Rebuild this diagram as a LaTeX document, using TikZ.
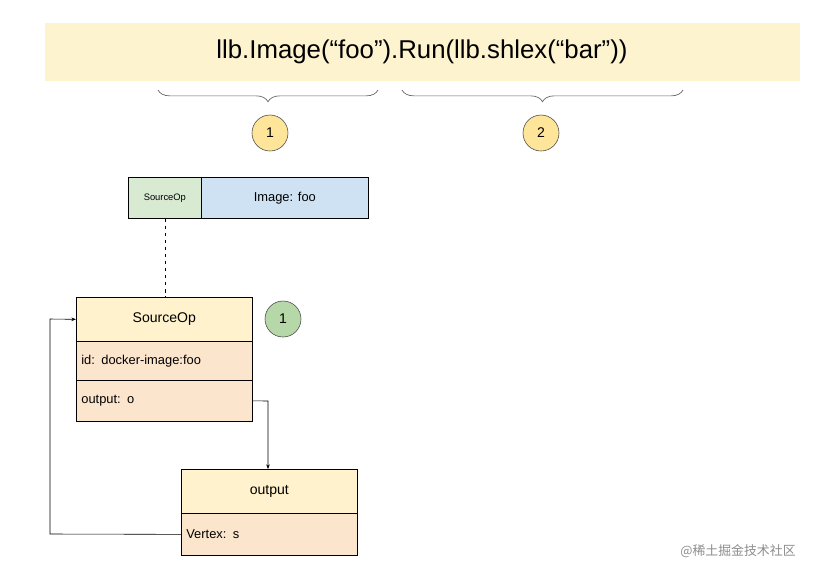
\documentclass[tikz,border=0pt]{standalone}
\usepackage{fontspec}
\setmainfont{Liberation Sans}
\newfontfamily\cjk{Noto Sans CJK SC}
\usetikzlibrary{decorations.pathreplacing,arrows.meta}
\definecolor{banner}{HTML}{FDF3CF}
\definecolor{hdr}{HTML}{FFF2CC}
\definecolor{row}{HTML}{FCE5CD}
\definecolor{grn}{HTML}{D9EAD3}
\definecolor{blu}{HTML}{CFE2F3}
\definecolor{ycirc}{HTML}{FFE599}
\definecolor{gcirc}{HTML}{B6D7A8}
\begin{document}
\begin{tikzpicture}[x=0.03cm,y=-0.03cm,
  box/.style={draw=black,line width=0.6pt,inner sep=0pt,anchor=north west},
  num/.style={circle,draw=black!70,line width=0.5pt,minimum size=36*0.03cm,inner sep=0pt,font=\fontsize{12}{14}\selectfont},
  lbl/.style={font=\fontsize{11}{13}\selectfont},
  conn/.style={line width=0.5pt},
  brc/.style={decorate,decoration={brace,amplitude=10pt,mirror},draw=black!60,line width=0.6pt}]
\useasboundingbox (0,0) rectangle (834,579);
\node[fill=banner,minimum width=755*0.03cm,minimum height=58*0.03cm,anchor=north west,inner sep=0pt] (ban) at (45,23) {};
\node[font=\fontsize{22}{26}\selectfont] (code) at (422,52) {llb.Image(“foo”).Run(llb.shlex(“bar”))};
\coordinate (b1a) at (158,90); \coordinate (b1b) at (378,90);
\coordinate (b2a) at (402,90); \coordinate (b2b) at (683,90);
\draw[brc] (b1a) -- (b1b);
\draw[brc] (b2a) -- (b2b);
\node[num,fill=ycirc] (c1) at (270,133) {1};
\node[num,fill=ycirc] (c2) at (541,133) {2};
% small source op
\node[box,fill=grn,minimum width=73*0.03cm,minimum height=41*0.03cm,font=\fontsize{8}{10}\selectfont] (so) at (128,177) {SourceOp};
\node[box,fill=blu,minimum width=167*0.03cm,minimum height=41*0.03cm,lbl] (img) at (201,177) {Image: foo};
% SourceOp box
\node[box,fill=hdr,minimum width=176*0.03cm,minimum height=44*0.03cm,font=\fontsize{12}{14}\selectfont] (sh) at (76,297) {SourceOp};
\node[box,fill=row,minimum width=176*0.03cm,minimum height=39*0.03cm,lbl,text width=166*0.03cm,align=left] (sid) at (76,341) {id: docker-image:foo};
\node[box,fill=row,minimum width=176*0.03cm,minimum height=41*0.03cm,lbl,text width=166*0.03cm,align=left] (sout) at (76,380) {output: o};
\node[num,fill=gcirc] (g1) at (283,319) {1};
% output box
\node[box,fill=hdr,minimum width=176*0.03cm,minimum height=44*0.03cm,font=\fontsize{12}{14}\selectfont] (oh) at (181,469) {output};
\node[box,fill=row,minimum width=176*0.03cm,minimum height=42*0.03cm,lbl,text width=166*0.03cm,align=left] (ov) at (181,513) {Vertex: s};
\draw[conn,dashed] (so.south -| 165,0) -- (sh.north -| 165,0);
\draw[conn,-{Stealth[length=4pt,width=3pt]}] (sout.east) -- (268,401) -- (oh.north -| 268,0);
\draw[conn,-{Stealth[length=4pt,width=3pt]}] (ov.west) -- (50,534) -- (50,319) -- (sh.west);
\node[text=black!45,font=\cjk\fontsize{11}{13}\selectfont] (wm) at (738,551) {@稀土掘金技术社区};
\end{tikzpicture}
\end{document}
